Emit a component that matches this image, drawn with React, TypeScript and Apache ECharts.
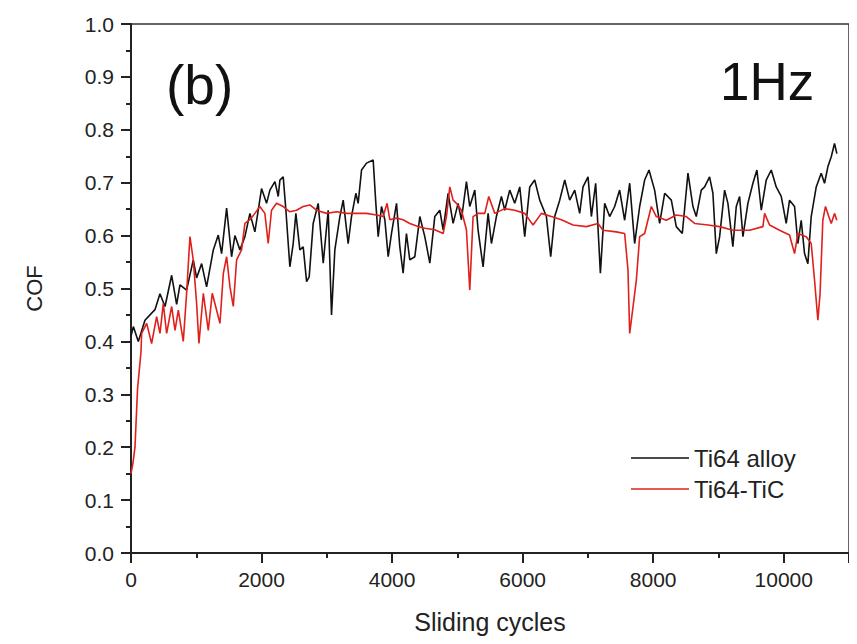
import React, { useEffect, useRef } from "react";
import * as echarts from "echarts";

const alloyCycles = [0,36,112,214,367,444,521,623,699,750,852,954,1005,1082,1158,1261,1337,1388,1465,1541,1592,1669,1745,1822,1898,2000,2077,2128,2205,2256,2281,2332,2373,2434,2485,2526,2587,2638,2690,2730,2791,2868,2945,3021,3072,3123,3200,3251,3327,3378,3445,3480,3532,3608,3710,3751,3787,3838,3889,3940,3991,4068,4118,4169,4220,4271,4348,4425,4501,4578,4654,4731,4782,4858,4935,5011,5062,5139,5190,5267,5317,5394,5471,5522,5598,5675,5726,5802,5879,5956,6032,6109,6185,6262,6364,6430,6491,6568,6645,6721,6798,6874,6925,7002,7053,7119,7191,7257,7333,7410,7486,7563,7640,7716,7793,7869,7936,8022,8099,8176,8278,8354,8446,8533,8609,8660,8737,8788,8864,8915,8967,9018,9094,9145,9221,9273,9324,9375,9451,9528,9589,9656,9732,9809,9885,9962,10038,10089,10166,10217,10268,10319,10370,10421,10498,10574,10625,10676,10728,10778,10814];
const alloyCof = [0.41,0.428,0.40,0.44,0.46,0.49,0.466,0.525,0.47,0.507,0.497,0.554,0.52,0.547,0.503,0.573,0.601,0.566,0.652,0.56,0.60,0.573,0.598,0.642,0.607,0.689,0.661,0.686,0.702,0.674,0.705,0.711,0.648,0.541,0.585,0.642,0.573,0.579,0.513,0.522,0.623,0.661,0.548,0.648,0.45,0.573,0.636,0.667,0.585,0.636,0.68,0.661,0.724,0.737,0.743,0.661,0.598,0.655,0.63,0.56,0.604,0.661,0.579,0.529,0.604,0.554,0.56,0.636,0.598,0.548,0.636,0.648,0.611,0.68,0.623,0.661,0.63,0.702,0.655,0.686,0.611,0.541,0.642,0.585,0.636,0.674,0.648,0.686,0.661,0.692,0.598,0.692,0.705,0.667,0.636,0.56,0.636,0.667,0.705,0.667,0.686,0.642,0.692,0.711,0.636,0.699,0.529,0.661,0.636,0.655,0.686,0.629,0.699,0.585,0.655,0.705,0.724,0.686,0.623,0.68,0.667,0.617,0.604,0.718,0.655,0.636,0.686,0.692,0.711,0.68,0.566,0.598,0.686,0.661,0.579,0.655,0.674,0.598,0.661,0.699,0.724,0.648,0.705,0.724,0.692,0.674,0.623,0.667,0.655,0.585,0.629,0.566,0.547,0.636,0.692,0.718,0.699,0.73,0.749,0.774,0.755];

const ticCycles = [0,30,61,100,153,163,240,316,393,444,495,546,623,674,725,801,852,903,954,1005,1041,1108,1184,1245,1312,1363,1414,1465,1516,1567,1618,1694,1745,1822,1898,1974,2051,2102,2153,2230,2332,2434,2536,2638,2740,2842,2996,3149,3302,3455,3608,3761,3863,3923,3965,4068,4169,4271,4398,4501,4654,4782,4833,4884,4935,4986,5062,5139,5190,5241,5317,5420,5481,5573,5726,5879,6032,6160,6287,6440,6594,6772,6976,7155,7231,7435,7563,7614,7640,7691,7742,7793,7869,7971,8048,8201,8354,8507,8635,8839,9018,9221,9477,9681,9707,9783,9936,10089,10166,10217,10345,10421,10472,10523,10557,10599,10640,10690,10728,10778,10814];
const ticCof = [0.15,0.17,0.2,0.31,0.38,0.415,0.434,0.396,0.447,0.415,0.472,0.415,0.466,0.421,0.459,0.40,0.491,0.598,0.554,0.472,0.396,0.491,0.421,0.491,0.459,0.434,0.528,0.56,0.503,0.466,0.554,0.573,0.623,0.63,0.642,0.655,0.642,0.585,0.648,0.661,0.655,0.645,0.648,0.655,0.658,0.648,0.642,0.645,0.642,0.642,0.642,0.639,0.636,0.661,0.63,0.633,0.63,0.623,0.617,0.614,0.611,0.604,0.636,0.692,0.667,0.661,0.648,0.611,0.497,0.636,0.642,0.642,0.674,0.642,0.651,0.648,0.642,0.62,0.642,0.636,0.63,0.62,0.617,0.623,0.61,0.607,0.604,0.535,0.415,0.465,0.516,0.598,0.604,0.655,0.636,0.629,0.639,0.636,0.623,0.62,0.617,0.61,0.61,0.617,0.642,0.62,0.61,0.601,0.566,0.604,0.598,0.585,0.516,0.44,0.491,0.629,0.655,0.636,0.623,0.642,0.629];

const seriesNames = ["Ti64 alloy", "Ti64-TiC"];
const xTitle = "Sliding cycles";
const yTitle = "COF";
const panelLabel = "(b)";
const freqLabel = "1Hz";

const FONT = "'Liberation Sans', Arial, sans-serif";
const TXT = "#222";

export default function App() {
  const ref = useRef<HTMLDivElement>(null);
  useEffect(() => {
    if (!ref.current) return;
    const chart = echarts.init(ref.current, undefined, { renderer: "svg" });
    const axisCommon = {
      axisLine: { show: true, lineStyle: { color: "#222", width: 2 } },
      axisTick: { show: true, inside: false, length: 10, lineStyle: { color: "#222", width: 2 } },
      minorTick: { show: true, splitNumber: 2, length: 5, lineStyle: { color: "#222", width: 2 } },
      splitLine: { show: false },
      minorSplitLine: { show: false },
    };
    chart.setOption({
      animation: false,
      backgroundColor: "#fff",
      textStyle: { fontFamily: FONT },
      grid: { left: 131, top: 24, right: 8, bottom: 91, show: true, borderColor: "#333", borderWidth: 1.5, backgroundColor: "transparent" },
      legend: {
        orient: "vertical",
        left: 626,
        top: 441,
        icon: "rect",
        itemWidth: 58,
        itemHeight: 1.5,
        itemGap: 7,
        textStyle: { fontSize: 24, color: TXT, fontFamily: FONT, padding: [0, 0, 0, 0] },
        data: seriesNames,
      },
      xAxis: {
        type: "value",
        min: 0,
        max: 11000,
        interval: 2000,
        name: xTitle,
        nameLocation: "middle",
        nameGap: 56,
        nameTextStyle: { fontSize: 25, color: TXT, fontFamily: FONT },
        axisLabel: { fontSize: 21, color: TXT, margin: 16, showMaxLabel: false, fontFamily: FONT, formatter: (v: number) => String(v) },
        ...axisCommon,
      },
      yAxis: {
        type: "value",
        min: 0,
        max: 1,
        interval: 0.1,
        name: yTitle,
        nameLocation: "middle",
        nameGap: 86,
        nameRotate: 90,
        nameTextStyle: { fontSize: 22, color: TXT, fontFamily: FONT },
        axisLabel: { fontSize: 21, color: TXT, margin: 17, fontFamily: FONT, formatter: (v: number) => v.toFixed(1) },
        ...axisCommon,
      },
      series: [
        {
          name: seriesNames[0],
          type: "line",
          showSymbol: false,
          symbol: "none",
          lineStyle: { color: "#111", width: 1.6 },
          itemStyle: { color: "#111" },
          data: alloyCycles.map((c, i) => [c, alloyCof[i]]),
        },
        {
          name: seriesNames[1],
          type: "line",
          showSymbol: false,
          symbol: "none",
          lineStyle: { color: "#e0201b", width: 1.6 },
          itemStyle: { color: "#e0201b" },
          data: ticCycles.map((c, i) => [c, ticCof[i]]),
        },
      ],
      graphic: [
        { type: "text", left: 166, top: 57, style: { text: panelLabel, font: `55px ${FONT}`, fill: "#111" } },
        { type: "text", left: 720, top: 55, style: { text: freqLabel, font: `53px ${FONT}`, fill: "#111" } },
      ],
    });
    return () => chart.dispose();
  }, []);
  return <div ref={ref} style={{ width: 857, height: 644, margin: -8 }} />;
}
